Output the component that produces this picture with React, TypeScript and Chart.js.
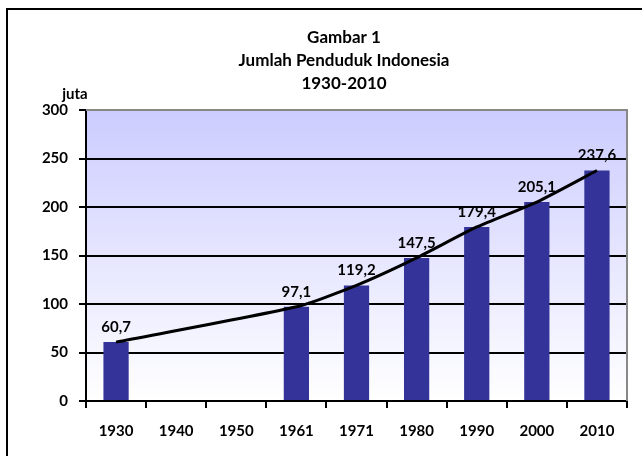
import { useEffect, useRef } from 'react';
import { Chart, registerables } from 'chart.js';

Chart.register(...registerables);

const years = ['1930', '1940', '1950', '1961', '1971', '1980', '1990', '2000', '2010'];
const population: (number | null)[] = [60.7, null, null, 97.1, 119.2, 147.5, 179.4, 205.1, 237.6];
const titleLines = ['Gambar 1', 'Jumlah Penduduk Indonesia', '1930-2010'];
const unitLabel = 'juta';
const yMin = 0;
const yMax = 300;
const yStep = 50;

const FONT = 'Lato, "Open Sans", "DejaVu Sans", sans-serif';

const decorPlugin = {
  id: 'decor',
  beforeDraw(chart: any) {
    const { ctx, chartArea, width, height } = chart;
    ctx.save();
    ctx.fillStyle = '#ffffff';
    ctx.fillRect(0, 0, width, height);
    // outer frame
    ctx.strokeStyle = '#000000';
    ctx.lineWidth = 2;
    ctx.strokeRect(7, 9, width + 20, height + 20);
    // plot background gradient
    const g = ctx.createLinearGradient(0, chartArea.top, 0, chartArea.bottom);
    g.addColorStop(0, '#ccccff');
    g.addColorStop(1, '#ffffff');
    ctx.fillStyle = g;
    ctx.fillRect(chartArea.left, chartArea.top, chartArea.right - chartArea.left, chartArea.bottom - chartArea.top);
    // titles
    ctx.fillStyle = '#000000';
    ctx.font = `bold 17px ${FONT}`;
    ctx.textAlign = 'center';
    ctx.textBaseline = 'middle';
    const cx = 344;
    titleLines.forEach((t, i) => ctx.fillText(t, cx, 38 + i * 23));
    ctx.font = `bold 15px ${FONT}`;
    ctx.fillText(unitLabel, 75, 94);
    ctx.restore();
  },
  beforeDatasetsDraw(chart: any) {
    const { ctx, chartArea } = chart;
    ctx.save();
    ctx.strokeStyle = '#888888';
    ctx.lineWidth = 2;
    ctx.beginPath();
    ctx.moveTo(chartArea.left, chartArea.top);
    ctx.lineTo(chartArea.right, chartArea.top);
    ctx.lineTo(chartArea.right, chartArea.bottom);
    ctx.stroke();
    ctx.restore();
  },
  afterDatasetsDraw(chart: any) {
    const { ctx } = chart;
    const meta = chart.getDatasetMeta(0);
    ctx.save();
    ctx.fillStyle = '#000000';
    ctx.font = `bold 15px ${FONT}`;
    ctx.textAlign = 'center';
    ctx.textBaseline = 'middle';
    meta.data.forEach((el: any, i: number) => {
      const v = population[i];
      if (v == null) return;
      ctx.fillText(v.toFixed(1).replace('.', ','), el.x, el.y - 15);
    });
    ctx.restore();
  },
};

export default function App() {
  const ref = useRef<HTMLCanvasElement>(null);
  useEffect(() => {
    document.body.style.margin = '0';
    const canvas = ref.current!;
    const chart = new Chart(canvas, {
      type: 'bar',
      data: {
        labels: years,
        datasets: [
          {
            type: 'bar',
            data: population,
            backgroundColor: '#333399',
            barPercentage: 0.42,
            categoryPercentage: 1,
            order: 1,
          } as any,
          {
            type: 'line',
            data: population,
            borderColor: '#000000',
            borderWidth: 3,
            pointRadius: 0,
            tension: 0.2,
            spanGaps: true,
            fill: false,
            order: 0,
          } as any,
        ],
      },
      options: {
        animation: false,
        responsive: false,
        maintainAspectRatio: false,
        layout: { padding: { left: 0, top: 110, right: 15, bottom: 0 } },
        plugins: { legend: { display: false }, tooltip: { enabled: false }, title: { display: false } },
        scales: {
          x: {
            offset: true,
            grid: {
              offset: true,
              drawOnChartArea: false,
              drawTicks: true,
              tickLength: 7,
              color: '#000000',
              lineWidth: 2,
            },
            border: { color: '#000000', width: 2 },
            ticks: { color: '#000000', font: { family: FONT, size: 15, weight: 'bold' }, padding: 14 },
            afterFit: (s: any) => { s.height = 55; },
          },
          y: {
            min: yMin,
            max: yMax,
            ticks: { stepSize: yStep, color: '#000000', font: { family: FONT, size: 15, weight: 'bold' }, padding: 11 },
            grid: {
              color: (c: any) => (c.tick && c.tick.value === yMax ? 'rgba(0,0,0,0)' : '#000000'),
              tickColor: '#000000',
              lineWidth: 2,
              tickLength: 7,
            },
            border: { color: '#000000', width: 2 },
            afterFit: (s: any) => { s.width = 86; },
          },
        },
      },
      plugins: [decorPlugin],
    });
    return () => chart.destroy();
  }, []);
  return <canvas ref={ref} width={642} height={456} style={{ display: 'block' }} />;
}
